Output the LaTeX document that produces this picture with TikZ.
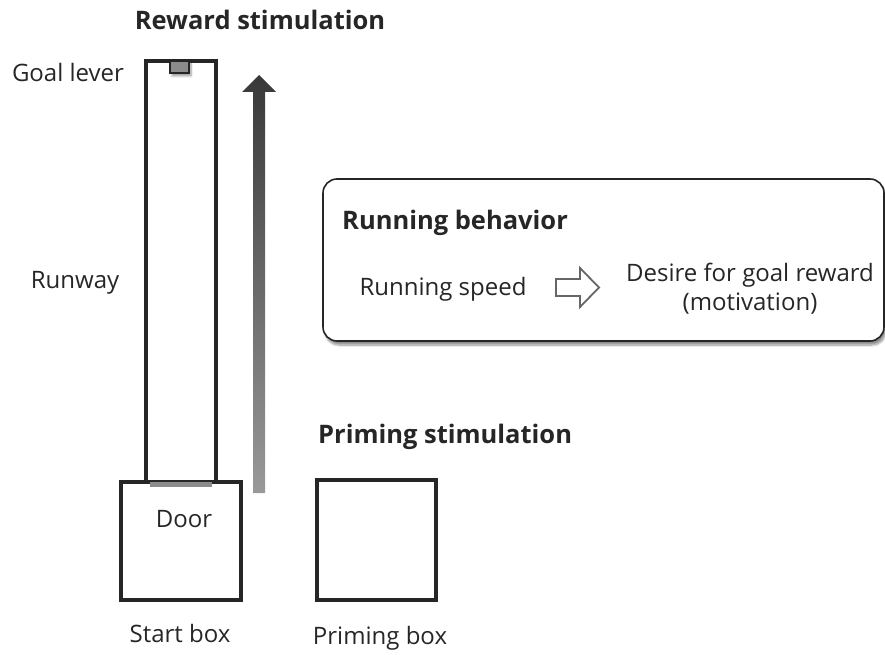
\documentclass[tikz,border=0pt]{standalone}
\usepackage{fontspec}
\setmainfont{Open Sans}
\usetikzlibrary{shadows.blur}
\begin{document}
\begin{tikzpicture}[x=1pt,y=-1pt,
  wall/.style={line width=3.2pt, draw=black!85},
  lbl/.style={font=\fontsize{24}{28}\selectfont, text=black!85, inner sep=0pt},
  hdr/.style={font=\fontsize{25.5}{30}\selectfont\bfseries, text=black!85, inner sep=0pt},
]
\useasboundingbox (0,0) rectangle (885,655);
% runway
\draw[wall] (146,484) -- (146,61) -- (216,61) -- (216,484);
% goal lever
\node[draw=black!85, line width=2.5pt, fill=black!45, minimum width=19pt, minimum height=12pt, inner sep=0pt,
  blur shadow={shadow xshift=2pt, shadow yshift=-3pt, shadow blur steps=6, shadow opacity=40}] (lever) at (179.5,67) {};
% start box
\draw[wall] (121,482) rectangle (241,600);
% door
\draw[line width=5pt, draw=black!45] (150,484.5) -- (212,484.5);
% priming box
\draw[wall] (317,480) rectangle (436,600);
% gradient arrow
\shade[top color=black!78, bottom color=black!40]
  (253,493) -- (253,92) -- (242,92) -- (259,75) -- (276,92) -- (265,92) -- (265,493) -- cycle;
% rounded box
\draw[line width=1.6pt, draw=black!85, rounded corners=14pt, fill=white,
  blur shadow={shadow xshift=2pt, shadow yshift=-4pt, shadow blur steps=8, shadow opacity=45}]
  (323,179) rectangle (884,341);
% hollow arrow
\draw[line width=1.8pt, draw=black!60, fill=white, line join=miter]
  (556,279) -- (580,279) -- (580,268) -- (599,287.5) -- (580,307) -- (580,296) -- (556,296) -- cycle;
% texts
\node[hdr] (rew) at (260,20) {Reward stimulation};
\node[lbl] (goal) at (68,73) {Goal lever};
\node[lbl] (runway) at (75,283) {Runway};
\node[lbl] (door) at (184,519) {Door};
\node[lbl] (start) at (180,633) {Start box};
\node[lbl] (prim) at (380,638) {Priming box};
\node[hdr, anchor=west] (primst) at (318,437) {Priming stimulation};
\node[hdr, anchor=west] (runb) at (342,223) {Running behavior};
\node[lbl] (speed) at (443,289) {Running speed};
\node[lbl, align=center, font=\fontsize{24}{29}\selectfont] (desire) at (750,289) {Desire for goal reward\\(motivation)};
\end{tikzpicture}
\end{document}
